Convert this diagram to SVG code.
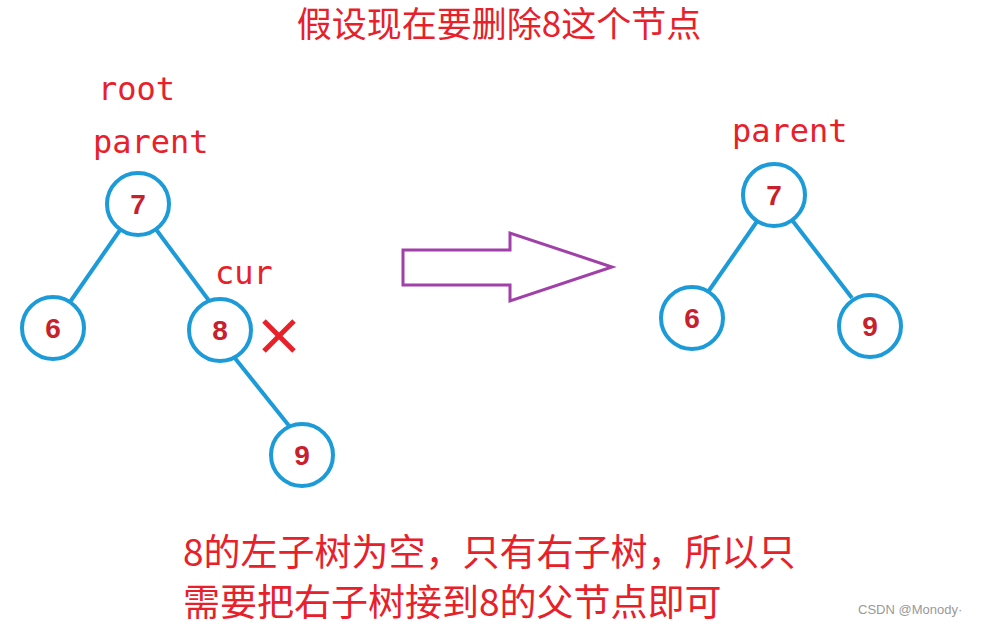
<svg xmlns="http://www.w3.org/2000/svg" width="996" height="630" viewBox="0 0 996 630">
<style>
.n circle{fill:#fff;stroke:#1c9bd8;stroke-width:4}
.n text{font-family:"Liberation Sans",sans-serif;font-weight:bold;font-size:28px;fill:#c8202c;text-anchor:middle}
.e line{stroke:#1c9bd8;stroke-width:4}
.r{font-family:"Noto Sans CJK SC",sans-serif;fill:#e8202a}
.m{font-family:"DejaVu Sans Mono",monospace;fill:#e8202a;font-size:32px}
</style>
<rect width="996" height="630" fill="#fff"/>
<text class="r" x="499" y="37" font-size="35" text-anchor="middle">假设现在要删除8这个节点</text>
<text class="m" x="98" y="100">root</text>
<text class="m" x="93" y="153">parent</text>
<text class="m" x="215" y="284">cur</text>
<text class="m" x="732" y="142">parent</text>
<g class="e">
<line x1="120" y1="230" x2="70" y2="302"/>
<line x1="155" y1="228" x2="210" y2="302"/>
<line x1="234" y1="357" x2="290" y2="427"/>
<line x1="758" y1="220" x2="708" y2="292"/>
<line x1="792" y1="220" x2="852" y2="298"/>
</g>
<g id="L7" class="n"><circle cx="138" cy="204" r="31"/><text x="138" y="214">7</text></g>
<g id="L6" class="n"><circle cx="53" cy="328" r="31"/><text x="53" y="338">6</text></g>
<g id="L8" class="n"><circle cx="220" cy="330" r="31"/><text x="220" y="340">8</text></g>
<g id="L9" class="n"><circle cx="302" cy="455" r="31"/><text x="302" y="465">9</text></g>
<g id="R7" class="n"><circle cx="774" cy="195" r="31"/><text x="774" y="205">7</text></g>
<g id="R6" class="n"><circle cx="692" cy="318" r="31"/><text x="692" y="328">6</text></g>
<g id="R9" class="n"><circle cx="870" cy="326" r="31"/><text x="870" y="336">9</text></g>
<g stroke="#e8202a" stroke-width="5"><line x1="264" y1="321" x2="294" y2="351"/><line x1="294" y1="321" x2="264" y2="351"/></g>
<polygon points="403,250 510,250 510,233 612,267 510,301 510,285 403,285" fill="#fff" stroke="#a040a8" stroke-width="3"/>
<text class="r" x="183" y="566" font-size="37">8的左子树为空，只有右子树，所以只</text>
<text class="r" x="183" y="616" font-size="37">需要把右子树接到8的父节点即可</text>
<text x="858" y="614" font-family="Liberation Sans,sans-serif" font-size="13" fill="#999">CSDN @Monody·</text>
</svg>
